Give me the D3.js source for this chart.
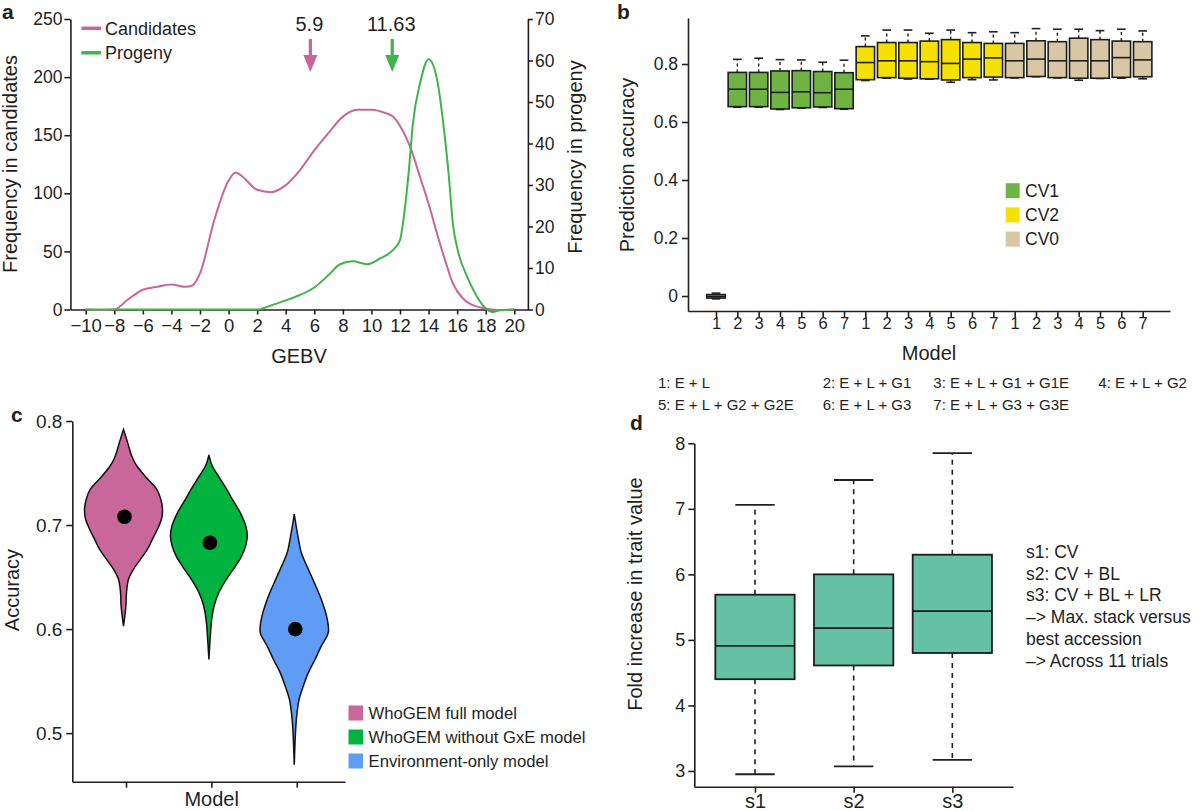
<!DOCTYPE html>
<html><head><meta charset="utf-8">
<script src="https://cdn.jsdelivr.net/npm/d3@7"></script>
<style>
body{margin:0;background:#fff}
svg text{font-family:"Liberation Sans",Arial,Helvetica,sans-serif;fill:#231f20}
</style></head><body>
<svg id="chart" width="1200" height="811"></svg>
<script>
// ---------- Panel a data ----------
const aXTicks = d3.range(-10, 21, 2);
const aLeftTicks = [0, 50, 100, 150, 200, 250];
const aRightTicks = [0, 10, 20, 30, 40, 50, 60, 70];
const candGEBV = [-10,-9,-8,-7,-6,-5,-4,-3,-2.5,-2,-1,0,0.5,1,2,3,4,5,6,7,8,9,10,11,11.5,12,12.8,13.4,14,14.6,15.15,15.7,16.4,17.1,18,19,20];
const candFreq = [0,-0.5,0,9,17,19.5,21.5,19.5,21,31,77,111,118,114,103,101,107,120,137,152,166,172,172,169,166,158,137,114,91,65,42.5,22.4,9.5,3.7,0.9,-0.5,0];
const progGEBV = [-10,-6,-2,0,2,3,4,5,6,7,7.8,8.7,9.7,10.6,11.5,12,12.2,12.6,12.9,13.4,14,14.56,15.03,15.4,15.7,16.1,16.7,17.4,18,18.5,19,20];
const progFreq = [0,0,0,0,0,1,2.2,3.5,5.3,8.3,10.9,11.6,10.9,12.3,14.3,16.7,20.7,32.8,44.8,54.5,60.3,56,44.8,32.8,20.7,13.5,7.9,3.0,0.24,-0.6,-0.2,0];
const aMarkers = [5.9, 11.63];
const aMarkerLabels = ["5.9", "11.63"];
const aSeriesNames = ["Candidates", "Progeny"];

// ---------- Panel b data ----------
const bGroups = ["CV1", "CV2", "CV0"];
const bModels = ["1","2","3","4","5","6","7"];
const bLow  = [[-0.010,0.651,0.651,0.643,0.648,0.650,0.644],[0.743,0.751,0.748,0.748,0.737,0.746,0.745],[0.752,0.756,0.752,0.744,0.750,0.751,0.749]];
const bQ1   = [[-0.007,0.653,0.653,0.645,0.649,0.652,0.646],[0.746,0.753,0.751,0.749,0.745,0.753,0.755],[0.753,0.757,0.753,0.751,0.751,0.754,0.756]];
const bMed  = [[-0.002,0.713,0.713,0.702,0.704,0.701,0.713],[0.805,0.811,0.811,0.808,0.802,0.817,0.821],[0.811,0.817,0.811,0.811,0.811,0.822,0.814]];
const bQ3   = [[0.005,0.771,0.771,0.776,0.777,0.774,0.770],[0.860,0.874,0.874,0.879,0.884,0.874,0.871],[0.871,0.880,0.877,0.889,0.884,0.879,0.877]];
const bHigh = [[0.010,0.816,0.820,0.815,0.814,0.806,0.813],[0.897,0.917,0.917,0.906,0.917,0.908,0.911],[0.908,0.922,0.920,0.920,0.915,0.920,0.914]];
const bYTicks = [0, 0.2, 0.4, 0.6, 0.8];
const bModelLegend1 = ["1: E + L", "2: E + L + G1", "3: E + L + G1 + G1E", "4: E + L + G2"];
const bModelLegend2 = ["5: E + L + G2 + G2E", "6: E + L + G3", "7: E + L + G3 + G3E"];

// ---------- Panel c data ----------
const cModels = ["WhoGEM full model", "WhoGEM without GxE model", "Environment-only model"];
const cAccPink  = [0.7919,0.7797,0.7669,0.7572,0.7444,0.7347,0.7251,0.7154,0.7058,0.6962,0.6865,0.6769,0.6672,0.6576,0.6479,0.6351,0.6222,0.6029];
const cDenPink  = [0,0.1,0.2,0.325,0.6,0.825,0.93,0.975,0.95,0.85,0.725,0.6,0.425,0.25,0.125,0.075,0.06,0];
const cAccGreen = [0.7675,0.7572,0.7476,0.7347,0.7251,0.7122,0.6994,0.6897,0.6801,0.6704,0.6608,0.6479,0.6351,0.6222,0.6094,0.5901,0.5708];
const cDenGreen = [0,0.08,0.23,0.44,0.58,0.78,0.92,0.96,0.92,0.82,0.67,0.44,0.25,0.13,0.07,0.03,0];
const cAccBlue  = [0.7106,0.6929,0.6736,0.6640,0.6511,0.6286,0.6093,0.5965,0.5836,0.5708,0.5579,0.5450,0.5322,0.5161,0.5000,0.4695];
const cDenBlue  = [0,0.075,0.175,0.275,0.425,0.675,0.825,0.85,0.675,0.52,0.35,0.225,0.12,0.06,0.03,0];
const cMeans = [0.708, 0.683, 0.600];
const cYTicks = [0.5, 0.6, 0.7, 0.8];

// ---------- Panel d data ----------
const dCats = ["s1", "s2", "s3"];
const dLow  = [2.95, 3.07, 3.17];
const dQ1   = [4.40, 4.61, 4.80];
const dMed  = [4.91, 5.18, 5.44];
const dQ3   = [5.69, 6.00, 6.30];
const dHigh = [7.06, 7.44, 7.85];
const dYTicks = [3, 4, 5, 6, 7, 8];
const dNotes = ["s1: CV", "s2: CV + BL", "s3: CV + BL + LR", "\u2013> Max. stack versus", "best accession", "\u2013> Across 11 trials"];

// ---------- helpers ----------
const FONT = '"Liberation Sans",Arial,Helvetica,sans-serif';
const INK = "#231f20";
const svg = d3.select("#chart");
function styleAxis(g, fs) {
  g.attr("font-family", FONT).attr("font-size", fs);
  g.select(".domain").attr("stroke", INK).attr("stroke-width", 1.6);
  g.selectAll(".tick line").attr("stroke", INK).attr("stroke-width", 1.6);
  g.selectAll(".tick text").attr("fill", INK);
}
function label(x, y, txt, fs, opts = {}) {
  const t = svg.append("text").attr("x", x).attr("y", y).text(txt)
    .attr("font-size", fs).attr("text-anchor", opts.anchor || "start");
  if (opts.bold) t.attr("font-weight", "bold");
  if (opts.rot) t.attr("x", null).attr("y", null).attr("transform", `translate(${x},${y}) rotate(-90)`);
  return t;
}

// ================= Panel a =================
const PINK = "#c9659b", GREEN = "#3cb54b";
const xA = d3.scaleLinear().domain([-11.07, 20.95]).range([70.4, 527.9]);
const yAL = d3.scaleLinear().domain([0, 250]).range([309.5, 19]);
const yAR = d3.scaleLinear().domain([0, 70]).range([309.5, 19]);
styleAxis(svg.append("g").attr("transform", "translate(0,309.5)")
  .call(d3.axisBottom(xA).tickValues(aXTicks).tickSize(5).tickSizeOuter(0).tickPadding(4)), 18.5);
styleAxis(svg.append("g").attr("transform", "translate(70.4,0)")
  .call(d3.axisLeft(yAL).tickValues(aLeftTicks).tickSize(6).tickSizeOuter(0).tickPadding(2)), 17.5);
styleAxis(svg.append("g").attr("transform", "translate(527.9,0)")
  .call(d3.axisRight(yAR).tickValues(aRightTicks).tickSize(5).tickSizeOuter(0).tickPadding(2)), 17.5);

const candPts = candGEBV.map((g, i) => [g, candFreq[i]]);
const progPts = progGEBV.map((g, i) => [g, progFreq[i]]);
svg.append("path").attr("d", d3.line().x(d => xA(d[0])).y(d => yAL(d[1])).curve(d3.curveMonotoneX)(candPts))
  .attr("fill", "none").attr("stroke", PINK).attr("stroke-width", 2);
svg.append("path").attr("d", d3.line().x(d => xA(d[0])).y(d => yAR(d[1])).curve(d3.curveMonotoneX)(progPts))
  .attr("fill", "none").attr("stroke", GREEN).attr("stroke-width", 2);

[PINK, GREEN].forEach((c, i) => {
  const yy = 28.3 + i * 24.5;
  svg.append("line").attr("x1", 81.4).attr("x2", 101).attr("y1", yy).attr("y2", yy)
    .attr("stroke", c).attr("stroke-width", 3.5);
  label(105, yy + 6.2, aSeriesNames[i], 18);
});
[PINK, GREEN].forEach((c, i) => {
  const ax = xA(aMarkers[i]) - 2.5;
  svg.append("rect").attr("x", ax - 1.6).attr("y", 39).attr("width", 3.2).attr("height", 18).attr("fill", c);
  svg.append("path").attr("d", `M${ax - 7},55 L${ax + 7},55 L${ax},72 Z`).attr("fill", c);
  label(ax - 1, 30.7, aMarkerLabels[i], 20, {anchor: "middle"});
});
label(299, 363, "GEBV", 20, {anchor: "middle"});
label(16.5, 164, "Frequency in candidates", 20, {anchor: "middle", rot: true});
label(582, 157, "Frequency in progeny", 20, {anchor: "middle", rot: true});
label(2, 19, "a", 21, {bold: true});

// ================= Panel b =================
const bColors = ["#6fb443", "#f6e000", "#d9c6a5"];
const xB = d3.scaleLinear().domain([-1.3125, 21.28]).range([688, 1170]);
const yB = d3.scaleLinear().domain([-0.0517, 0.9586]).range([311, 18]);
styleAxis(svg.append("g").attr("transform", "translate(688,0)")
  .call(d3.axisLeft(yB).tickValues(bYTicks).tickSize(6).tickSizeOuter(0).tickPadding(4)
    .tickFormat(d => d === 0 ? "0" : d3.format(".1f")(d))), 17.5);
styleAxis(svg.append("g").attr("transform", "translate(0,311)")
  .call(d3.axisBottom(xB).tickValues(d3.range(21)).tickSize(6).tickSizeOuter(0).tickPadding(0)
    .tickFormat(i => bModels[i % 7])), 16.5);

const bw = 18.4, capB = 8.7;
bGroups.forEach((grp, gi) => {
  bModels.forEach((m, mi) => {
    const cx = xB(gi * 7 + mi);
    const g = svg.append("g");
    g.append("line").attr("x1", cx).attr("x2", cx).attr("y1", yB(bQ3[gi][mi])).attr("y2", yB(bHigh[gi][mi]))
      .attr("stroke", INK).attr("stroke-width", 1.4).attr("stroke-dasharray", "3,3");
    g.append("line").attr("x1", cx).attr("x2", cx).attr("y1", yB(bQ1[gi][mi])).attr("y2", yB(bLow[gi][mi]))
      .attr("stroke", INK).attr("stroke-width", 1.4).attr("stroke-dasharray", "3,3");
    [bHigh[gi][mi], bLow[gi][mi]].forEach(v => {
      g.append("line").attr("x1", cx - capB / 2).attr("x2", cx + capB / 2).attr("y1", yB(v)).attr("y2", yB(v))
        .attr("stroke", INK).attr("stroke-width", 1.6);
    });
    g.append("rect").attr("x", cx - bw / 2).attr("width", bw)
      .attr("y", yB(bQ3[gi][mi])).attr("height", yB(bQ1[gi][mi]) - yB(bQ3[gi][mi]))
      .attr("fill", bColors[gi]).attr("stroke", "#1d1d1b").attr("stroke-width", 1.6);
    g.append("line").attr("x1", cx - bw / 2).attr("x2", cx + bw / 2).attr("y1", yB(bMed[gi][mi])).attr("y2", yB(bMed[gi][mi]))
      .attr("stroke", "#1d1d1b").attr("stroke-width", 1.6);
  });
});
bGroups.forEach((grp, gi) => {
  const cy = 190.7 + gi * 24.2;
  svg.append("rect").attr("x", 1005.7).attr("y", cy - 7.5).attr("width", 14).attr("height", 15).attr("fill", bColors[gi]);
  label(1025, cy + 6.3, grp, 17.5);
});
label(929, 360, "Model", 20, {anchor: "middle"});
label(634, 165, "Prediction accuracy", 20, {anchor: "middle", rot: true});
label(617, 19, "b", 21, {bold: true});
const leg1X = [658, 822.7, 933.3, 1098.3];
const leg2X = [658, 822.7, 933.3];
bModelLegend1.forEach((t, i) => label(leg1X[i], 388, t, 15));
bModelLegend2.forEach((t, i) => label(leg2X[i], 409.5, t, 15));

// ================= Panel c =================
const cColors = ["#c9679a", "#00b33e", "#5e9cf5"];
const yC = d3.scaleLinear().domain([0.4533, 0.8]).range([781.7, 421]);
const xC = d3.scaleLinear().domain([-0.629, 2.565]).range([72.3, 345]);
const wC = d3.scaleLinear().domain([0, 1]).range([0, 40]);
styleAxis(svg.append("g").attr("transform", "translate(72.3,0)")
  .call(d3.axisLeft(yC).tickValues(cYTicks).tickSize(6).tickSizeOuter(0).tickPadding(4).tickFormat(d3.format(".1f"))), 19);
styleAxis(svg.append("g").attr("transform", "translate(0,781.7)")
  .call(d3.axisBottom(xC).tickValues([0, 1, 2]).tickSize(6).tickSizeOuter(0).tickFormat("")), 18);
const violins = [[cAccPink, cDenPink], [cAccGreen, cDenGreen], [cAccBlue, cDenBlue]];
violins.forEach(([acc, den], i) => {
  const cx = xC(i) - 2.5;
  const pts = acc.map((a, k) => ({a, w: den[k]}));
  const area = d3.area().curve(d3.curveCatmullRom.alpha(0.5))
    .y(d => yC(d.a)).x0(d => cx - wC(d.w)).x1(d => cx + wC(d.w));
  svg.append("path").attr("d", area(pts)).attr("fill", cColors[i]).attr("stroke", "#111").attr("stroke-width", 1.5);
  svg.append("circle").attr("cx", cx + 1).attr("cy", yC(cMeans[i])).attr("r", 7.3).attr("fill", "#000");
});
cModels.forEach((m, i) => {
  const cy = 713 + i * 24;
  svg.append("rect").attr("x", 348.5).attr("y", cy - 7.5).attr("width", 14.5).attr("height", 15).attr("fill", cColors[i]);
  label(368.5, cy + 6, m, 16.7);
});
label(211.7, 806, "Model", 20, {anchor: "middle"});
label(19, 590, "Accuracy", 20, {anchor: "middle", rot: true});
label(11, 422, "c", 21, {bold: true});

// ================= Panel d =================
const dColor = "#66c2a5";
const yD = d3.scaleLinear().domain([2.76, 8]).range([786.7, 443.3]);
const xD = d3.scaleLinear().domain([-0.615, 2.615]).range([694.3, 1013]);
styleAxis(svg.append("g").attr("transform", "translate(694.3,0)")
  .call(d3.axisLeft(yD).tickValues(dYTicks).tickSize(6).tickSizeOuter(0).tickPadding(3).tickFormat(d3.format("d"))), 18);
styleAxis(svg.append("g").attr("transform", "translate(0,786.7)")
  .call(d3.axisBottom(xD).tickValues([0, 1, 2]).tickSize(6).tickSizeOuter(0).tickPadding(1).tickFormat(i => dCats[i])), 20);
const dw = 79.3, dcap = 39.3;
dCats.forEach((c, i) => {
  const cx = xD(i);
  svg.append("line").attr("x1", cx).attr("x2", cx).attr("y1", yD(dQ3[i])).attr("y2", yD(dHigh[i]))
    .attr("stroke", INK).attr("stroke-width", 1.6).attr("stroke-dasharray", "5,5");
  svg.append("line").attr("x1", cx).attr("x2", cx).attr("y1", yD(dQ1[i])).attr("y2", yD(dLow[i]))
    .attr("stroke", INK).attr("stroke-width", 1.6).attr("stroke-dasharray", "5,5");
  [dHigh[i], dLow[i]].forEach(v => svg.append("line").attr("x1", cx - dcap / 2).attr("x2", cx + dcap / 2)
    .attr("y1", yD(v)).attr("y2", yD(v)).attr("stroke", INK).attr("stroke-width", 1.8));
  svg.append("rect").attr("x", cx - dw / 2).attr("width", dw).attr("y", yD(dQ3[i])).attr("height", yD(dQ1[i]) - yD(dQ3[i]))
    .attr("fill", dColor).attr("stroke", "#1d1d1b").attr("stroke-width", 1.8);
  svg.append("line").attr("x1", cx - dw / 2).attr("x2", cx + dw / 2).attr("y1", yD(dMed[i])).attr("y2", yD(dMed[i]))
    .attr("stroke", "#1d1d1b").attr("stroke-width", 1.8);
});
dNotes.forEach((t, i) => label(1026, 557.7 + i * 21.8, t, 17.5));
label(642, 594, "Fold increase in trait value", 20, {anchor: "middle", rot: true});
label(630, 430, "d", 21, {bold: true});
</script>
</body></html>
